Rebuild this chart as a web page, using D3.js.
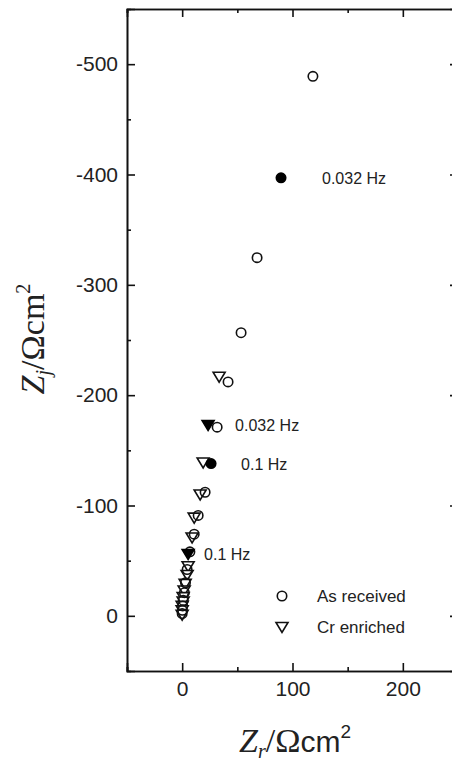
<!DOCTYPE html>
<html>
<head>
<meta charset="utf-8">
<script src="https://cdn.jsdelivr.net/npm/d3@7"></script>
<style>
  body { margin: 0; background: #fff; }
  .tick text { font-family: "Liberation Sans", Arial, sans-serif; font-size: 21px; fill: #222; }
  .domain, .tick line { stroke: #111; stroke-width: 1.6; }
</style>
</head>
<body>
<div id="chart"></div>
<script>
// As received (circles) : Zr, Zj in ohm cm2
var asReceivedZr = [118.5, 67.9, 53.4, 41.6, 31.7, 20.8, 14.5, 10.9, 7, 4.5, 3, 2, 1, 0.5, 0.3, 0];
var asReceivedZj = [-489, -324.6, -256.6, -212, -171, -112, -91, -74, -58, -42, -30, -21, -14, -9, -5, -2];
// Cr enriched (triangles)
var crEnrichedZr = [33.5, 19, 16.3, 10.9, 9, 5.4, 4.5, 2.7, 1.8, 0.9, 0.9, 0, 0, 0];
var crEnrichedZj = [-216.7, -139, -110, -89, -71, -45, -37, -29, -23, -17, -13, -9, -5, -1];
// marked frequencies (filled symbols)
var markShape = ["circle", "triangle", "circle", "triangle"];
var markZr = [89.6, 23.5, 26.2, 5.4];
var markZj = [-397, -173, -138, -56];
var markLabel = ["0.032 Hz", "0.032 Hz", "0.1 Hz", "0.1 Hz"];

var xTicks = [0, 100, 200];
var xMinor = [-50, 50, 150, 250];
var yTicks = [-500, -400, -300, -200, -100, 0];
var yMinor = [-450, -350, -250, -150, -50];

var width = 452, height = 764;
var mLeft = 127, mRight = 458, mTop = 9, mBottom = 671;

var svg = d3.select("#chart").append("svg")
  .attr("width", width).attr("height", height);

var x = d3.scaleLinear().domain([-50, 250]).range([mLeft, mRight]);
var y = d3.scaleLinear().domain([50, -550]).range([mBottom, mTop]);

var fmt = function(d) { return String(d); };

svg.append("g").attr("transform", "translate(0," + mBottom + ")")
  .call(d3.axisBottom(x).tickValues(xTicks).tickSize(-8).tickPadding(10).tickFormat(fmt));
svg.append("g").attr("transform", "translate(0," + mBottom + ")")
  .call(d3.axisBottom(x).tickValues(xMinor).tickSize(-4).tickFormat(""));
svg.append("g").attr("transform", "translate(0," + mTop + ")")
  .call(d3.axisTop(x).tickValues(xTicks).tickSize(-8).tickFormat(""));
svg.append("g").attr("transform", "translate(0," + mTop + ")")
  .call(d3.axisTop(x).tickValues(xMinor).tickSize(-4).tickFormat(""));

svg.append("g").attr("transform", "translate(" + mLeft + ",0)")
  .call(d3.axisLeft(y).tickValues(yTicks).tickSize(-8).tickPadding(9).tickFormat(fmt));
svg.append("g").attr("transform", "translate(" + mLeft + ",0)")
  .call(d3.axisLeft(y).tickValues(yMinor).tickSize(-4).tickFormat(""));
svg.append("g").attr("transform", "translate(" + mRight + ",0)")
  .call(d3.axisRight(y).tickValues(yTicks).tickSize(-8).tickFormat(""));
svg.append("g").attr("transform", "translate(" + mRight + ",0)")
  .call(d3.axisRight(y).tickValues(yMinor).tickSize(-4).tickFormat(""));

svg.selectAll(".domain").attr("stroke-width", 2);

var circleSym = d3.symbol().type(d3.symbolCircle).size(70);
var triSym = "M-6,-4.5L6,-4.5L0,5.5Z";

var g = svg.append("g");

g.selectAll(".tri").data(d3.range(crEnrichedZr.length)).enter().append("path")
  .attr("d", triSym)
  .attr("transform", function(i) { return "translate(" + x(crEnrichedZr[i]) + "," + y(crEnrichedZj[i]) + ")"; })
  .attr("fill", "#fff").attr("stroke", "#111").attr("stroke-width", 1.6);

g.selectAll(".circ").data(d3.range(asReceivedZr.length)).enter().append("path")
  .attr("d", circleSym)
  .attr("transform", function(i) { return "translate(" + x(asReceivedZr[i]) + "," + y(asReceivedZj[i]) + ")"; })
  .attr("fill", "none").attr("stroke", "#111").attr("stroke-width", 1.6);

g.selectAll(".mark").data(d3.range(markZr.length)).enter().append("path")
  .attr("d", function(i) { return markShape[i] === "circle" ? circleSym() : triSym; })
  .attr("transform", function(i) { return "translate(" + x(markZr[i]) + "," + y(markZj[i]) + ")"; })
  .attr("fill", "#000").attr("stroke", "#000").attr("stroke-width", 1.6);

var labelDx = [41, 27, 30, 16];
g.selectAll(".hz").data(d3.range(markZr.length)).enter().append("text")
  .attr("x", function(i) { return x(markZr[i]) + labelDx[i]; })
  .attr("y", function(i) { return y(markZj[i]) + 6; })
  .attr("font-family", "'Liberation Sans', Arial, sans-serif")
  .attr("font-size", 16).attr("fill", "#222")
  .text(function(i) { return markLabel[i]; });

// legend
var legend = [{ name: "As received", sym: "circle" }, { name: "Cr enriched", sym: "triangle" }];
var lg = svg.append("g").attr("transform", "translate(282,596)");
legend.forEach(function(l, i) {
  lg.append("path").attr("d", l.sym === "circle" ? circleSym() : triSym)
    .attr("transform", "translate(0," + (i * 31) + ")")
    .attr("fill", "none").attr("stroke", "#111").attr("stroke-width", 1.6);
  lg.append("text").attr("x", 35).attr("y", i * 31 + 6)
    .attr("font-family", "'Liberation Sans', Arial, sans-serif")
    .attr("font-size", 17).attr("fill", "#222").text(l.name);
});

// axis titles
var serif = "'Liberation Serif', 'Times New Roman', serif";
var sans = "'Liberation Sans', Arial, sans-serif";

var xt = svg.append("text").attr("x", 295).attr("y", 752).attr("text-anchor", "middle")
  .attr("font-family", serif).attr("font-size", 34).attr("fill", "#222");
xt.append("tspan").attr("font-style", "italic").text("Z");
xt.append("tspan").attr("font-size", 20).attr("font-style", "italic").attr("dy", 6).text("r");
xt.append("tspan").attr("dy", -6).text("/Ω");
xt.append("tspan").attr("font-family", sans).attr("font-size", 30).text("cm");
xt.append("tspan").attr("font-family", sans).attr("font-size", 19).attr("dy", -14).text("2");

var yt = svg.append("text").attr("transform", "translate(44,339) rotate(-90)").attr("text-anchor", "middle")
  .attr("font-family", serif).attr("font-size", 34).attr("fill", "#222");
yt.append("tspan").attr("font-style", "italic").text("Z");
yt.append("tspan").attr("font-size", 20).attr("font-style", "italic").attr("dy", 6).text("j");
yt.append("tspan").attr("dy", -6).text("/Ωcm");
yt.append("tspan").attr("font-size", 20).attr("dy", -14).text("2");
</script>
</body>
</html>
